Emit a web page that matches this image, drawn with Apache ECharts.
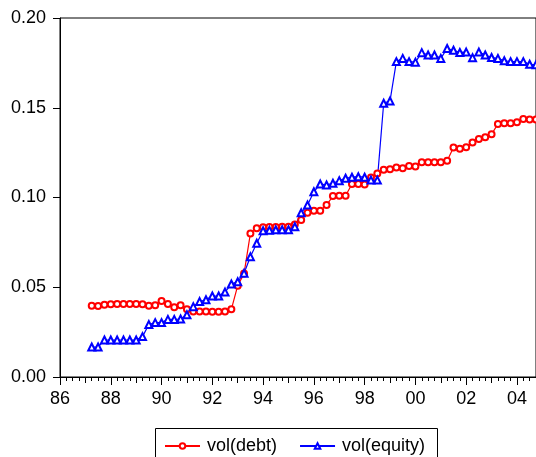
<!DOCTYPE html>
<html>
<head>
<meta charset="utf-8">
<script src="https://cdn.jsdelivr.net/npm/echarts@6/dist/echarts.min.js"></script>
<style>html,body{margin:0;padding:0;background:#fff}#c{width:536px;height:457px}</style>
</head>
<body>
<div id="c"></div>
<script>
// Quarterly observations, first quarter 1987Q2, 71 quarters
const startYear = 1987.25;
const volDebt = [
  0.0397,0.0395,0.0403,0.0405,0.0407,0.0407,0.0407,0.0407,0.0405,0.0397,0.0400,0.0423,0.0407,0.0389,0.0400,
  0.0378,0.0365,0.0365,0.0365,0.0364,0.0364,0.0365,0.0377,0.0509,0.0576,0.0800,0.0828,0.0834,0.0836,0.0836,
  0.0837,0.0837,0.0850,0.0875,0.0915,0.0926,0.0926,0.0958,0.1008,0.1010,0.1010,0.1075,0.1075,0.1073,0.1112,
  0.1134,0.1155,0.1158,0.1167,0.1163,0.1175,0.1173,0.1196,0.1196,0.1196,0.1196,0.1205,0.1278,0.1272,0.1280,
  0.1307,0.1326,0.1335,0.1352,0.1410,0.1414,0.1414,0.1419,0.1437,0.1435,0.1435
];
const volEquity = [
  0.0167,0.0167,0.0206,0.0206,0.0206,0.0206,0.0206,0.0206,0.0225,0.0292,0.0303,0.0303,0.0321,0.0321,0.0323,
  0.0347,0.0392,0.0420,0.0430,0.0451,0.0451,0.0473,0.0518,0.0531,0.0578,0.0670,0.0745,0.0815,0.0817,0.0820,
  0.0820,0.0820,0.0837,0.0915,0.0958,0.1032,0.1075,0.1070,0.1079,0.1094,0.1107,0.1113,0.1116,0.1113,0.1097,
  0.1097,0.1525,0.1538,0.1757,0.1775,0.1757,0.1754,0.1807,0.1794,0.1794,0.1775,0.1830,0.1820,0.1808,0.1810,
  0.1779,0.1810,0.1794,0.1780,0.1775,0.1762,0.1757,0.1757,0.1757,0.1742,0.1740
];
const seriesNames = ['vol(debt)', 'vol(equity)'];
const yTickLabels = ['0.00','0.05','0.10','0.15','0.20'];

const times = volDebt.map((_, i) => startYear + i * 0.25);
const pairs = arr => arr.map((v, i) => [times[i], v]);

const FONT = '"Liberation Sans", Arial, sans-serif';
const chart = echarts.init(document.getElementById('c'), null, {renderer: 'canvas'});
chart.setOption({
  animation: false,
  backgroundColor: '#fff',
  grid: {left: 60, top: 18, right: -2, bottom: 80, show: true, borderColor: '#000', borderWidth: 1, backgroundColor: 'transparent'},
  xAxis: [{
    type: 'value', min: 1986, max: 2004.75, interval: 2,
    axisLine: {show: true, onZero: false, lineStyle: {color: '#000', width: 1}},
    axisTick: {show: true, length: 8, lineStyle: {color: '#000'}},
    minorTick: {show: true, splitNumber: 8, length: 4, lineStyle: {color: '#000'}},
    splitLine: {show: false},
    axisLabel: {color: '#000', fontSize: 18, fontFamily: FONT, margin: 13, showMaxLabel: false,
      formatter: v => String(Math.round(v) % 100).padStart(2, '0')}
  }, {
    type: 'value', min: 1986, max: 2004.75, interval: 1, position: 'bottom',
    axisLine: {show: false, onZero: false},
    axisTick: {show: true, length: 6, lineStyle: {color: '#000'}},
    splitLine: {show: false},
    axisLabel: {show: false}
  }],
  yAxis: {
    type: 'value', min: 0, max: 0.2, interval: 0.05,
    axisLine: {show: true, lineStyle: {color: '#000', width: 1}},
    axisTick: {show: true, length: 7, lineStyle: {color: '#000'}},
    splitLine: {show: false},
    axisLabel: {color: '#000', fontSize: 18, fontFamily: FONT, margin: 14,
      formatter: v => yTickLabels[Math.round(v / 0.05)]}
  },
  legend: {
    left: 164, top: 437, padding: 0, itemWidth: 35, itemHeight: 7, itemGap: 22,
    textStyle: {color: '#000', fontSize: 18, fontFamily: FONT, padding: [0, 0, 0, 2]},
    data: seriesNames
  },
  graphic: [{
    type: 'rect', shape: {x: 155.5, y: 428.5, width: 282, height: 40},
    style: {fill: 'none', stroke: '#000', lineWidth: 1}, z: 100
  }],
  series: [{
    name: seriesNames[0], type: 'line', data: pairs(volDebt),
    symbol: 'emptyCircle', symbolSize: 6,
    lineStyle: {color: '#ff0000', width: 1.2}, itemStyle: {color: '#ff0000', borderWidth: 1.1},
    clip: true
  }, {
    name: seriesNames[1], type: 'line', data: pairs(volEquity),
    symbol: 'emptyTriangle', symbolSize: 7,
    lineStyle: {color: '#0000ff', width: 1.2}, itemStyle: {color: '#0000ff', borderWidth: 1.1},
    clip: true
  }]
});
</script>
</body>
</html>
